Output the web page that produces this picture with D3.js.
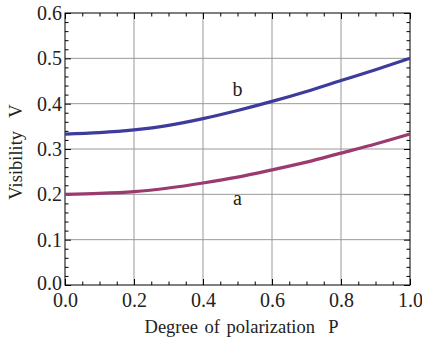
<!DOCTYPE html>
<html>
<head>
<meta charset="utf-8">
<script src="https://cdn.jsdelivr.net/npm/d3@7"></script>
<style>
  body { margin: 0; background: #fff; }
  svg text { font-family: "Liberation Serif", "DejaVu Serif", serif; fill: #222; }
</style>
</head>
<body>
<div id="chart"></div>
<script>
// values
const P = [0, 0.1, 0.2, 0.3, 0.4, 0.5, 0.6, 0.7, 0.8, 0.9, 1.0];
const curveB = [0.333, 0.336, 0.342, 0.352, 0.367, 0.385, 0.405, 0.427, 0.451, 0.475, 0.500];
const curveA = [0.200, 0.202, 0.206, 0.214, 0.225, 0.238, 0.254, 0.271, 0.291, 0.311, 0.333];
const xTicks = [0, 0.2, 0.4, 0.6, 0.8, 1.0];
const yTicks = [0, 0.1, 0.2, 0.3, 0.4, 0.5, 0.6];

const W = 422, H = 342;
const margin = { top: 13, right: 12, bottom: 57, left: 65 };
const width = W - margin.left - margin.right,
      height = H - margin.top - margin.bottom;

const svg = d3.select("#chart").append("svg")
  .attr("width", W)
  .attr("height", H);

const g = svg.append("g")
  .attr("transform", "translate(" + margin.left + "," + margin.top + ")");

const x = d3.scaleLinear().domain([0, 1]).range([0, width]);
const y = d3.scaleLinear().domain([0, 0.6]).range([height, 0]);

// grid
g.append("g").selectAll("line")
  .data(xTicks.slice(1, -1))
  .enter().append("line")
  .attr("x1", d => x(d)).attr("x2", d => x(d))
  .attr("y1", 0).attr("y2", height)
  .attr("stroke", "#999").attr("stroke-width", 1);

g.append("g").selectAll("line")
  .data(yTicks.slice(1, -1))
  .enter().append("line")
  .attr("y1", d => y(d)).attr("y2", d => y(d))
  .attr("x1", 0).attr("x2", width)
  .attr("stroke", "#999").attr("stroke-width", 1);

// ticks on all four sides, pointing inward
const xMinor = d3.range(0, 1.0001, 0.05).map(v => +v.toFixed(2));
const yMinor = d3.range(0, 0.6001, 0.02).map(v => +v.toFixed(2));
const isMajor = (v, step) => Math.abs(v / step - Math.round(v / step)) < 1e-6;

const xAxis = g.append("g")
  .attr("transform", "translate(0," + height + ")")
  .call(d3.axisBottom(x).tickValues(xMinor).tickSizeOuter(0)
    .tickFormat(d => isMajor(d, 0.2) ? d3.format(".1f")(d) : ""));
xAxis.selectAll(".tick line")
  .attr("y2", d => isMajor(d, 0.2) ? -6 : -3.5);
xAxis.selectAll(".tick text").attr("y", 8).attr("dy", "0.71em");

const xTop = g.append("g")
  .call(d3.axisTop(x).tickValues(xMinor).tickSizeOuter(0).tickFormat(""));
xTop.selectAll(".tick line")
  .attr("y2", d => isMajor(d, 0.2) ? 6 : 3.5);

const yAxis = g.append("g")
  .call(d3.axisLeft(y).tickValues(yMinor).tickSizeOuter(0)
    .tickFormat(d => isMajor(d, 0.1) ? d3.format(".1f")(d) : ""));
yAxis.selectAll(".tick line")
  .attr("x2", d => isMajor(d, 0.1) ? 6 : 3.5);
yAxis.selectAll(".tick text")
  .attr("x", -3)
  .attr("dy", d => d === 0 ? "0.2em" : "0.32em");

const yRight = g.append("g")
  .attr("transform", "translate(" + width + ",0)")
  .call(d3.axisRight(y).tickValues(yMinor).tickSizeOuter(0).tickFormat(""));
yRight.selectAll(".tick line")
  .attr("x2", d => isMajor(d, 0.1) ? -6 : -3.5);

g.selectAll(".domain").remove();
g.selectAll(".tick line").attr("stroke", "#000");
g.selectAll(".tick text")
  .style("font-family", "'Liberation Serif', serif")
  .style("font-size", "20px")
  .attr("fill", "#222");

// frame
g.append("rect")
  .attr("width", width).attr("height", height)
  .attr("fill", "none").attr("stroke", "#000").attr("stroke-width", 1);

// curves
const line = d3.line()
  .x((d, i) => x(P[i]))
  .y(d => y(d))
  .curve(d3.curveMonotoneX);

g.append("path")
  .datum(curveA)
  .attr("d", line)
  .attr("fill", "none")
  .attr("stroke", "#9b3a6f")
  .attr("stroke-width", 3.2);

g.append("path")
  .datum(curveB)
  .attr("d", line)
  .attr("fill", "none")
  .attr("stroke", "#3d3b9c")
  .attr("stroke-width", 3.2);

// curve labels
g.append("text")
  .attr("x", x(0.5)).attr("y", y(0.418))
  .attr("text-anchor", "middle")
  .style("font-size", "20px")
  .text("b");

g.append("text")
  .attr("x", x(0.5)).attr("y", y(0.176))
  .attr("text-anchor", "middle")
  .style("font-size", "20px")
  .text("a");

// axis titles
svg.append("text")
  .attr("x", margin.left + width / 2 + 4)
  .attr("y", H - 9)
  .attr("text-anchor", "middle")
  .style("font-size", "18.5px")
  .style("word-spacing", "2px")
  .text("Degree of polarization\u00a0\u00a0P");

svg.append("text")
  .attr("transform", "translate(22," + (margin.top + height / 2 + 3) + ") rotate(-90)")
  .attr("text-anchor", "middle")
  .style("font-size", "18.5px")
  .style("word-spacing", "2px")
  .text("Visibility\u00a0\u00a0V");
</script>
</body>
</html>
